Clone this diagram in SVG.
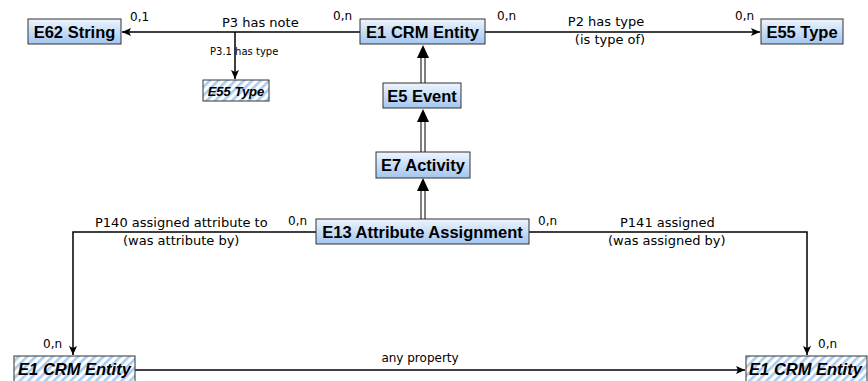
<svg xmlns="http://www.w3.org/2000/svg" width="868" height="381" viewBox="0 0 868 381">
<defs>
  <linearGradient id="g" x1="0" y1="0" x2="0" y2="1">
    <stop offset="0" stop-color="#eef5fd"/>
    <stop offset="1" stop-color="#a3c6f0"/>
  </linearGradient>
  <pattern id="h" width="6" height="6" patternUnits="userSpaceOnUse" patternTransform="rotate(45)">
    <rect width="6" height="6" fill="#ffffff"/>
    <rect width="2.6" height="6" fill="#a9cbee"/>
  </pattern>
  <marker id="a" markerWidth="10" markerHeight="10" refX="9" refY="4" orient="auto" markerUnits="userSpaceOnUse">
    <path d="M0,0 L9,4 L0,8 L2,4 z" fill="#000"/>
  </marker>
</defs>
<style>
  .box{fill:url(#g);stroke:#333;stroke-width:1}
  .hb{fill:url(#h);stroke:#333;stroke-width:1}
  .bl{font-family:"Liberation Sans",Arial,sans-serif;font-weight:bold;font-size:16.5px;fill:#000;text-anchor:middle}
  .it{font-family:"Liberation Sans",Arial,sans-serif;font-weight:bold;font-style:italic;fill:#000;text-anchor:middle}
  .t{font-family:"DejaVu Sans",Verdana,sans-serif;font-size:13px;fill:#000}
  .c{font-family:"DejaVu Sans",Verdana,sans-serif;font-size:12px;fill:#000}
  .s{font-family:"DejaVu Sans",Verdana,sans-serif;font-size:10px;fill:#000}
  .ln{fill:none;stroke:#000;stroke-width:1.5}
  .dl{fill:none;stroke:#000;stroke-width:1}
</style>
<g id="connectors">
  <line class="ln" x1="360" y1="32" x2="122" y2="32" marker-end="url(#a)"/>
  <line class="ln" x1="235" y1="32" x2="235" y2="79" marker-end="url(#a)"/>
  <line class="ln" x1="485" y1="32" x2="760" y2="32" marker-end="url(#a)"/>
  <polyline class="ln" points="316,232 73,232 73,355" marker-end="url(#a)"/>
  <polyline class="ln" points="529,232 807,232 807,355" marker-end="url(#a)"/>
  <line class="ln" x1="135" y1="370" x2="745" y2="370" marker-end="url(#a)"/>
  <path class="dl" d="M421,83 V58 M425,83 V58"/>
  <path d="M423,45 L429,58 L417,58 z" fill="#000"/>
  <path class="dl" d="M421,152 V122 M425,152 V122"/>
  <path d="M423,109 L429,122 L417,122 z" fill="#000"/>
  <path class="dl" d="M421,219 V191 M425,219 V191"/>
  <path d="M423,178 L429,191 L417,191 z" fill="#000"/>
  <text class="c" x="130" y="21">0,1</text>
  <text class="t" x="222" y="27">P3 has note</text>
  <text class="c" x="333" y="20">0,n</text>
  <text class="c" x="497" y="20">0,n</text>
  <text class="t" x="606" y="26" text-anchor="middle">P2 has type</text>
  <text class="t" x="610" y="44" text-anchor="middle">(is type of)</text>
  <text class="c" x="735" y="20">0,n</text>
  <text class="s" x="210" y="55">P3.1 has type</text>
  <text class="t" x="95" y="227">P140 assigned attribute to</text>
  <text class="t" x="123" y="245">(was attribute by)</text>
  <text class="c" x="288" y="225">0,n</text>
  <text class="c" x="538" y="225">0,n</text>
  <text class="t" x="620" y="227">P141 assigned</text>
  <text class="t" x="608" y="245">(was assigned by)</text>
  <text class="c" x="43" y="348">0,n</text>
  <text class="c" x="818" y="348">0,n</text>
  <text class="c" x="420" y="362" text-anchor="middle">any property</text>
</g>
<g id="e62">
  <rect class="box" x="28" y="19" width="93" height="25"/>
  <text class="bl" x="74.5" y="38">E62 String</text>
</g>
<g id="e1top">
  <rect class="box" x="360" y="19" width="125" height="25"/>
  <text class="bl" x="422.5" y="38">E1 CRM Entity</text>
</g>
<g id="e55right">
  <rect class="box" x="761" y="19" width="82" height="25"/>
  <text class="bl" x="802" y="38">E55 Type</text>
</g>
<g id="e55small">
  <rect class="hb" x="203" y="80" width="66" height="21"/>
  <text class="it" x="236" y="95.5" font-size="13">E55 Type</text>
</g>
<g id="e5">
  <rect class="box" x="383" y="83" width="78" height="25"/>
  <text class="bl" x="422" y="102">E5 Event</text>
</g>
<g id="e7">
  <rect class="box" x="376" y="152" width="94" height="26"/>
  <text class="bl" x="423" y="171">E7 Activity</text>
</g>
<g id="e13">
  <rect class="box" x="316" y="219" width="213" height="25"/>
  <text class="bl" x="422.5" y="238">E13 Attribute Assignment</text>
</g>
<g id="e1left">
  <rect class="hb" x="14" y="356" width="121" height="30"/>
  <text class="it" x="74.5" y="375" font-size="16.5">E1 CRM Entity</text>
</g>
<g id="e1right">
  <rect class="hb" x="746" y="356" width="121" height="30"/>
  <text class="it" x="805.5" y="375" font-size="16.5">E1 CRM Entity</text>
</g>
</svg>
